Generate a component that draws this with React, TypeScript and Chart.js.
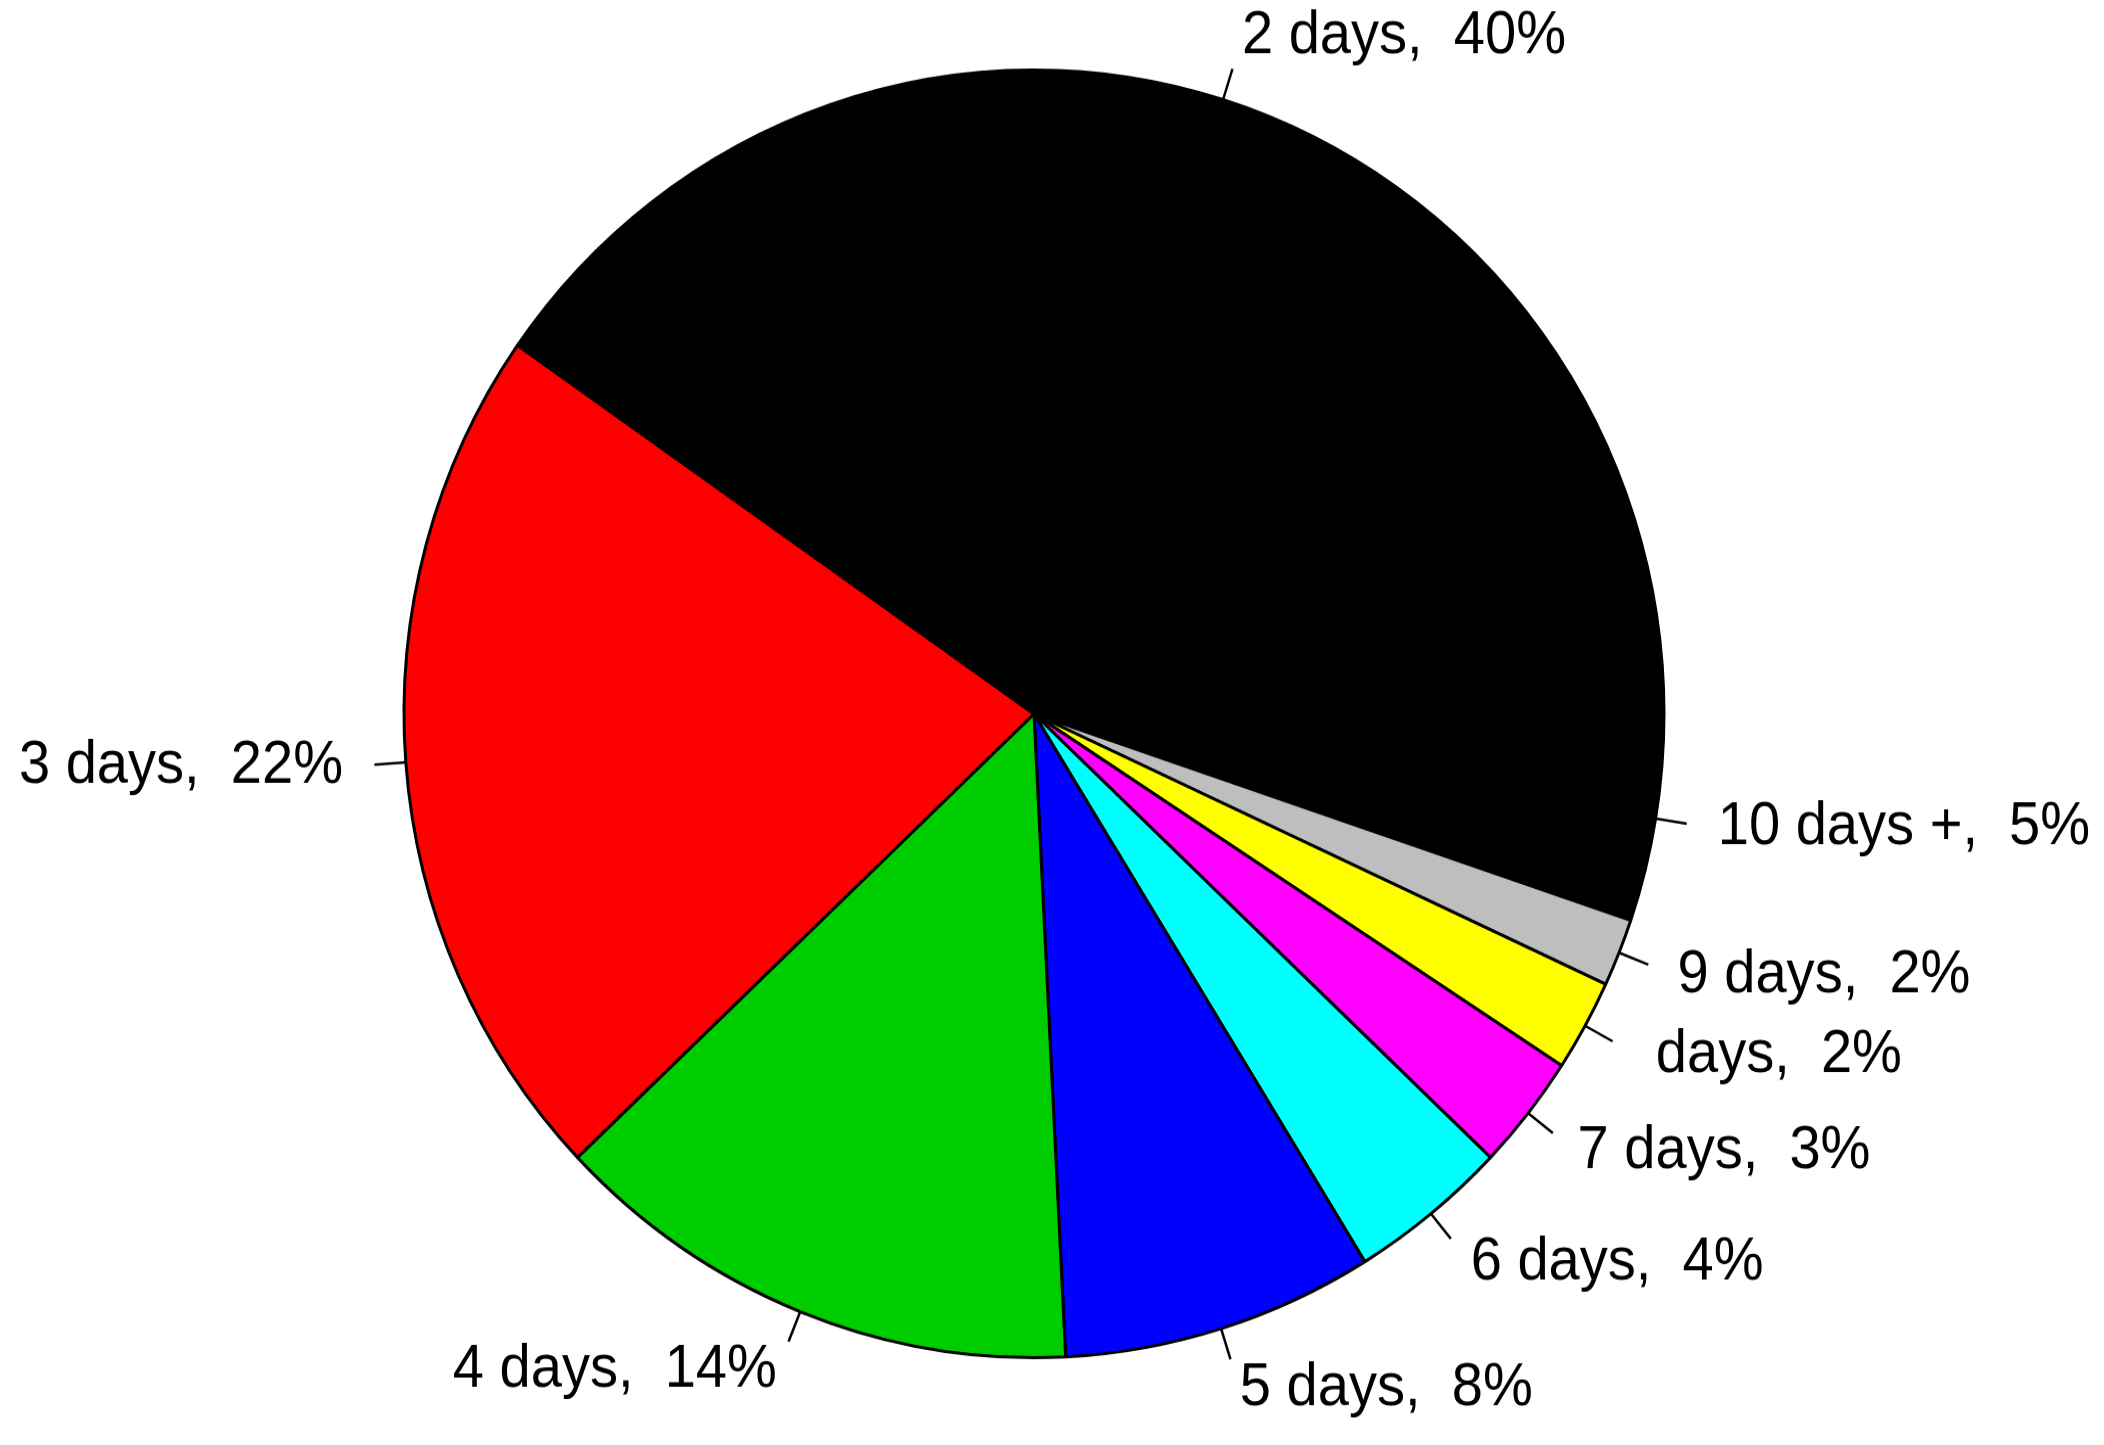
import React, { useEffect, useRef } from "react";
import { Chart, registerables } from "chart.js";

Chart.register(...registerables);

// Slices in R order (counter-clockwise from 3 o'clock)
const categories = ["2 days", "3 days", "4 days", "5 days", "6 days", "7 days", " days", "9 days", "10 days +"];
const shares = [40.3, 21.8, 13.7, 8.0, 4.1, 2.9, 2.3, 1.7, 5.2];
const percentLabels = ["40%", "22%", "14%", "8%", "4%", "3%", "2%", "2%", "5%"];
const sliceColors = ["#000000", "#FF0000", "#00CD00", "#0000FF", "#00FFFF", "#FF00FF", "#FFFF00", "#BEBEBE", "#000000"];

const CANVAS_W = 2104;
const CANVAS_H = 1414;
const STRETCH_Y = 1445 / 1414;
const FONT_PX = 59;
const TEXT_SCALE_X = 0.95;

export default function App() {
  const canvasRef = useRef<HTMLCanvasElement | null>(null);

  useEffect(() => {
    const canvas = canvasRef.current;
    if (!canvas) return;

    // Chart.js draws clockwise from its rotation; reversing the order reproduces R's counter-clockwise layout.
    const order = categories.map((_, i) => i).reverse();
    const texts = order.map((i) => `${categories[i]},  ${percentLabels[i]}`);

    const labelPlugin = {
      id: "rPieLabels",
      afterDatasetsDraw(chart: any) {
        const meta = chart.getDatasetMeta(0);
        const ctx: CanvasRenderingContext2D = chart.ctx;
        ctx.save();
        ctx.font = `${FONT_PX}px "Liberation Sans", Arial, Helvetica, sans-serif`;
        ctx.fillStyle = "#000000";
        ctx.strokeStyle = "#000000";
        ctx.lineWidth = 2.5;
        meta.data.forEach((arc: any, i: number) => {
          const p = arc.getProps(["x", "y", "startAngle", "endAngle", "outerRadius"], true);
          const mid = (p.startAngle + p.endAngle) / 2;
          const c = Math.cos(mid);
          const s = Math.sin(mid);
          const r = p.outerRadius;
          ctx.beginPath();
          ctx.moveTo(p.x + r * c, p.y + r * s);
          ctx.lineTo(p.x + 1.05 * r * c, p.y + 1.05 * r * s);
          ctx.stroke();
          const tx = p.x + 1.1 * r * c;
          const ty = p.y + 1.1 * r * s + 0.253 * FONT_PX;
          ctx.save();
          ctx.translate(tx, ty);
          ctx.scale(TEXT_SCALE_X, 1);
          ctx.textAlign = c < 0 ? "right" : "left";
          ctx.textBaseline = "alphabetic";
          ctx.fillText(texts[i], 0, 0);
          ctx.restore();
        });
        ctx.restore();
      },
    };

    const chart = new Chart(canvas, {
      type: "pie",
      data: {
        labels: order.map((i) => categories[i]),
        datasets: [
          {
            data: order.map((i) => shares[i]),
            backgroundColor: order.map((i) => sliceColors[i]),
            borderColor: "#000000",
            borderWidth: 3,
            hoverOffset: 0,
          },
        ],
      },
      options: {
        animation: false,
        responsive: false,
        devicePixelRatio: 1,
        events: [],
        rotation: 90,
        radius: 630,
        layout: { padding: { left: 0, right: 36, top: 0, bottom: 17 } },
        plugins: {
          legend: { display: false },
          tooltip: { enabled: false },
          title: { display: false },
        },
      },
      plugins: [labelPlugin],
    });

    return () => {
      chart.destroy();
    };
  }, []);

  return (
    <div
      style={{
        position: "fixed",
        left: 0,
        top: 0,
        width: 2104,
        height: 1445,
        overflow: "hidden",
        background: "#ffffff",
      }}
    >
      <canvas
        ref={canvasRef}
        width={CANVAS_W}
        height={CANVAS_H}
        style={{
          display: "block",
          width: `${CANVAS_W}px`,
          height: `${CANVAS_H}px`,
          transform: `scaleY(${STRETCH_Y})`,
          transformOrigin: "0 0",
        }}
      />
    </div>
  );
}
